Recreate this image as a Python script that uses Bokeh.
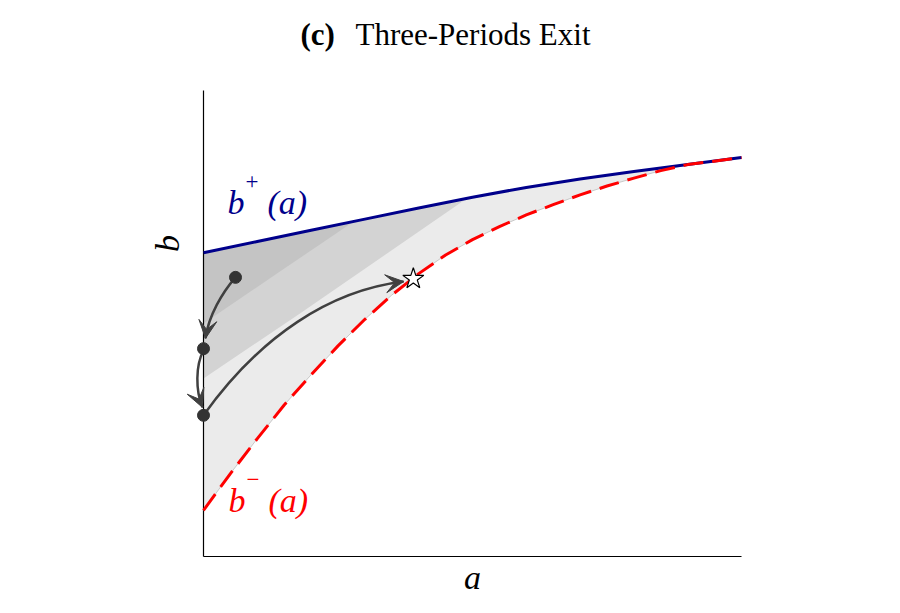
import numpy as np
from bokeh.plotting import figure
from bokeh.models import Label, Arrow, VeeHead, Range1d
from bokeh.embed import file_html
from bokeh.resources import INLINE

# ---------------- data ----------------
a_plus = [0.0, 0.1, 0.2, 0.3, 0.4, 0.5, 0.6, 0.7, 0.8, 0.9, 1.0]
b_plus = [0.652, 0.676, 0.700, 0.724, 0.748, 0.771, 0.792, 0.810, 0.826, 0.841, 0.856]

a_minus = [0.0, 0.05, 0.1, 0.15, 0.2, 0.25, 0.3, 0.35, 0.4, 0.45, 0.5, 0.55,
           0.6, 0.65, 0.7, 0.75, 0.8, 0.85, 0.9, 1.0]
b_minus = [0.099, 0.178, 0.253, 0.325, 0.390, 0.452, 0.509, 0.561, 0.607, 0.647,
           0.680, 0.708, 0.733, 0.755, 0.776, 0.795, 0.812, 0.828, 0.841, 0.856]

# lower edges of the two darker bands (end on b+)
mid_edge_a = [0.0, 0.180, 0.490]
mid_edge_b = [0.382, 0.522]
dark_edge_a = [0.0, 0.140, 0.280]
dark_edge_b = [0.500, 0.610]

# path points and the exit target
pts_a = [0.0595, 0.0, 0.0]
pts_b = [0.599, 0.446, 0.303]
star_a = [0.390]
star_b = [0.596]

# arrow paths (start, ctrl1, ctrl2, end)
arr_x0 = [0.0595, 0.0, 0.0]
arr_y0 = [0.599, 0.442, 0.303]
arr_cx0 = [0.0353, -0.0149, 0.106]
arr_cy0 = [0.567, 0.410, 0.474]
arr_cx1 = [0.0093, -0.0149, 0.236]
arr_cy1 = [0.517, 0.356, 0.571]
arr_x1 = [0.0037, -0.0019, 0.372]
arr_y1 = [0.468, 0.320, 0.590]

title_bold = "(c)"
title_text = "Three-Periods Exit"

# ---------------- geometry ----------------
W, H = 884, 597
AX0, AX1 = 203.0, 741.0   # canvas px of a=0, a=1
BY0, BY1 = 556.0, 90.0    # canvas px of b=0, b=1
sx = (AX1 - AX0)
sy = (BY0 - BY1)
TOFF = 11.0               # label baseline correction (px)

def ax(px):   # canvas px -> a
    return (px - AX0) / sx

def by(py):   # canvas px -> b (text baseline)
    return (BY0 - (py - TOFF)) / sy

p = figure(width=W, height=H, output_backend="svg", toolbar_location=None,
           x_range=Range1d(-AX0 / sx, (W - AX0) / sx),
           y_range=Range1d((BY0 - H) / sy, BY0 / sy),
           x_axis_location=None, y_axis_location=None, min_border=0)
p.grid.visible = False
p.outline_line_color = None
p.background_fill_color = "white"
p.border_fill_color = "white"

# ---------------- shaded regions ----------------
p.patch(a_plus + a_minus[::-1], b_plus + b_minus[::-1],
        fill_color="#ebebeb", line_color=None)

def band(edge_a, edge_b):
    end_b = float(np.interp(edge_a[-1], a_plus, b_plus))
    up_a = [x for x in a_plus if x < edge_a[-1]]
    up_b = [float(np.interp(x, a_plus, b_plus)) for x in up_a]
    xs = up_a + [edge_a[-1]] + edge_a[-2::-1]
    ys = up_b + [end_b] + list(edge_b)[::-1]
    return xs, ys

mx, my = band(mid_edge_a, mid_edge_b)
p.patch(mx, my, fill_color="#d3d3d3", line_color=None)
dx, dy = band(dark_edge_a, dark_edge_b)
p.patch(dx, dy, fill_color="#c4c4c4", line_color=None)

# ---------------- axes ----------------
p.line([0, 0], [0, 1.0], line_color="black", line_width=1.2)
p.line([0, 1.0], [0, 0], line_color="black", line_width=1.2)

# ---------------- curves ----------------
p.line(a_minus, b_minus, line_color="#bdbdbd", line_width=0.8)
p.line(a_plus, b_plus, line_color="#00008B", line_width=3)
p.line(a_minus, b_minus, line_color="red", line_width=3, line_dash="20 9")

# ---------------- arrows ----------------
ac = "#404040"
p.bezier(x0=arr_x0, y0=arr_y0, x1=arr_x1, y1=arr_y1,
         cx0=arr_cx0, cy0=arr_cy0, cx1=arr_cx1, cy1=arr_cy1,
         line_color=ac, line_width=2.5)
for i in range(3):
    ex, ey = arr_x1[i], arr_y1[i]
    tx, ty = ex - arr_cx1[i], ey - arr_cy1[i]
    n = np.hypot(tx * sx, ty * sy)
    k = 3.0 / n
    p.add_layout(Arrow(end=VeeHead(size=18, fill_color=ac, line_color=ac, line_width=1),
                       x_start=ex - tx * k, y_start=ey - ty * k, x_end=ex, y_end=ey,
                       line_color=ac, line_width=2.5))

p.scatter(pts_a, pts_b, size=12, fill_color="#333333", line_color="#333333")
p.scatter(star_a, star_b, marker="star", size=22, fill_color="white",
          line_color="black", line_width=1.2)

# ---------------- texts ----------------
serif = "Liberation Serif"

def math_label(x0, base, sup, color):
    # b^{sup}(a) set as three pieces
    p.add_layout(Label(x=ax(x0), y=by(base), text="b", text_color=color,
                       text_font=serif, text_font_style="italic", text_font_size="34px",
                       text_baseline="alphabetic", text_align="left"))
    p.add_layout(Label(x=ax(x0 + 18), y=by(base - 21), text=sup, text_color=color,
                       text_font=serif, text_font_style="normal", text_font_size="23px",
                       text_baseline="alphabetic", text_align="left"))
    p.add_layout(Label(x=ax(x0 + 40), y=by(base), text="(a)", text_color=color,
                       text_font=serif, text_font_style="italic", text_font_size="34px",
                       text_baseline="alphabetic", text_align="left"))

math_label(227, 213, "+", "#00008B")
math_label(228, 511, "\u2212", "red")

p.add_layout(Label(x=ax(178 - TOFF), y=(BY0 - 243) / sy, text="b", angle=np.pi / 2,
                   text_font=serif, text_font_style="italic", text_font_size="34px",
                   text_baseline="alphabetic", text_align="center", text_color="black"))
p.add_layout(Label(x=ax(472), y=by(588), text="a",
                   text_font=serif, text_font_style="italic", text_font_size="34px",
                   text_baseline="alphabetic", text_align="center", text_color="black"))
p.add_layout(Label(x=ax(300), y=by(45), text=title_bold,
                   text_font=serif, text_font_style="bold", text_font_size="31px",
                   text_baseline="alphabetic", text_align="left", text_color="black"))
p.add_layout(Label(x=ax(355), y=by(45), text=title_text,
                   text_font=serif, text_font_style="normal", text_font_size="31px",
                   text_baseline="alphabetic", text_align="left", text_color="black"))

open("out.html", "w").write(file_html(p, INLINE))
